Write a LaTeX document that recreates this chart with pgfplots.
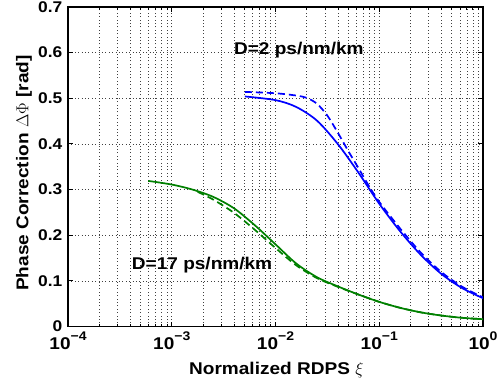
\documentclass[border=0pt]{standalone}
\usepackage{pgfplots}
\pgfplotsset{compat=1.18}
\usepackage{fontspec}
\setmainfont{Liberation Sans}[FakeStretch=1.12]
\definecolor{mblue}{rgb}{0,0,1}
\definecolor{mgreen}{rgb}{0,0.5,0}
\newcommand{\tl}[1]{10\raisebox{0.52em}{\fontsize{12.5}{12.5}\selectfont\bfseries #1}}
\begin{document}
\begin{tikzpicture}
\begin{axis}[
  at={(0pt,0pt)}, anchor=south west,
  scale only axis,
  width=415pt, height=319.5pt,
  xmode=log, xmin=1e-4, xmax=1, ymin=0, ymax=0.7,
  xtick={1e-4,1e-3,1e-2,1e-1,1},
  xticklabels={\tl{−4},\tl{−3},\tl{−2},\tl{−1},\tl{0}},
  ytick={0,0.1,0.2,0.3,0.4,0.5,0.6,0.7},
  yticklabels={0,0.1,0.2,0.3,0.4,0.5,0.6,0.7},
  yticklabel style={font=\fontsize{15.5}{17}\selectfont\bfseries, inner sep=0pt, xshift=-5.5pt},
  xticklabel style={font=\fontsize{17}{19}\selectfont\bfseries, inner sep=0pt, yshift=-5pt},
  xlabel={Normalized RDPS $\xi$},
  ylabel={Phase Correction $\Delta\Phi$ [rad]},
  xlabel style={font=\fontsize{17}{19}\selectfont\bfseries, at={(axis description cs:0.502,-0.1487)}, anchor=base},
  ylabel style={font=\fontsize{17}{19}\selectfont\bfseries, at={(axis description cs:-0.106,0.48)}, anchor=center, rotate=0},
  grid=both,
  major grid style={black!75, dash pattern=on 0.8pt off 2.6pt, line width=0.6pt},
  minor grid style={black!75, dash pattern=on 0.8pt off 2.6pt, line width=0.6pt},
  tick align=inside,
  major tick length=5pt, minor tick length=2.5pt,
  axis line style={line width=1.8pt},
  every tick/.style={black, line width=0.9pt},
]
% blue solid (D=2)
\addplot[mblue, line width=1.7pt, smooth] coordinates {
(5.08e-3,0.504) (0.01,0.496) (0.01585,0.481) (0.02512,0.451) (0.03981,0.400)
(0.0631,0.337) (0.1,0.269) (0.1585,0.209) (0.2512,0.157) (0.3981,0.115) (0.631,0.084) (1,0.062)};
% blue dashed
\addplot[mblue, line width=1.7pt, smooth, dash pattern=on 7pt off 4pt] coordinates {
(5.08e-3,0.514) (0.01,0.511) (0.01585,0.506) (0.01995,0.501) (0.02512,0.488) (0.03162,0.462)
(0.03981,0.425) (0.05012,0.385) (0.0631,0.347) (0.07943,0.308) (0.1,0.273)
(0.1585,0.215) (0.2512,0.162) (0.3981,0.119) (0.631,0.087) (1,0.064)};
% green solid (D=17)
\addplot[mgreen, line width=1.7pt, smooth] coordinates {
(5.94e-4,0.319) (1e-3,0.311) (1.585e-3,0.300) (2.512e-3,0.284) (3.981e-3,0.259) (6.31e-3,0.222)
(0.01,0.180) (0.01585,0.138) (0.02512,0.108) (0.03981,0.088) (0.0631,0.070) (0.1,0.054)
(0.1585,0.041) (0.2512,0.031) (0.3981,0.024) (0.631,0.019) (1,0.016)};
% green dashed
\addplot[mgreen, line width=1.7pt, smooth, dash pattern=on 7pt off 4pt] coordinates {
(1.778e-3,0.295) (2.512e-3,0.278) (3.981e-3,0.249) (6.31e-3,0.212)
(0.01,0.172) (0.01585,0.134) (0.02512,0.106) (0.03981,0.087) (0.0631,0.070) (0.1,0.054)
(0.1585,0.041) (0.2512,0.031) (0.3981,0.024) (0.631,0.019) (1,0.016)};
\node[font=\fontsize{17}{19}\selectfont\bfseries, anchor=base] at (axis cs:0.0168,0.595) {D=2 ps/nm/km};
\node[font=\fontsize{17}{19}\selectfont\bfseries, anchor=base] at (axis cs:1.96e-3,0.124) {D=17 ps/nm/km};
\end{axis}
\path[use as bounding box] (-68pt,-56.5pt) rectangle (435pt,326.5pt);
\end{tikzpicture}
\end{document}
